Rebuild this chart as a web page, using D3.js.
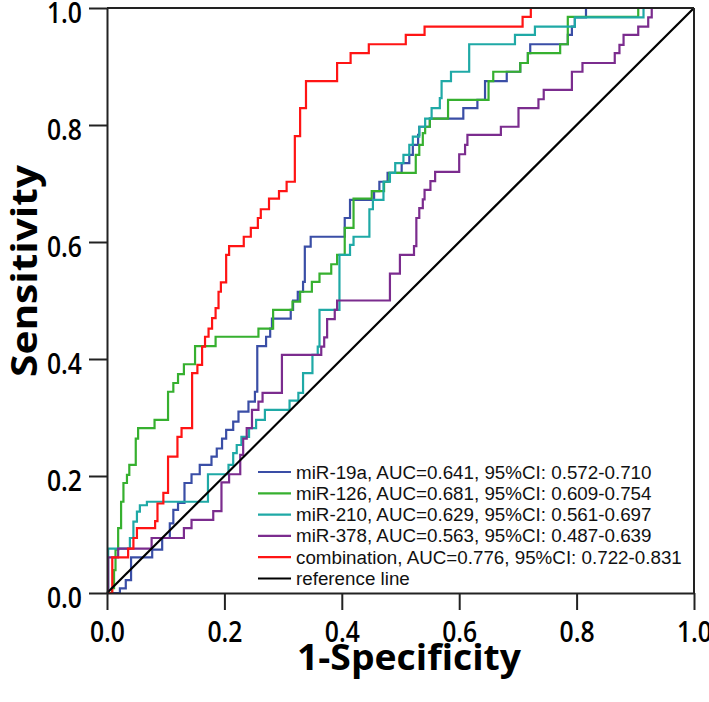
<!DOCTYPE html>
<html><head><meta charset="utf-8">
<script src="https://cdn.jsdelivr.net/npm/d3@7"></script>
<style>body{margin:0;background:#fff}</style>
</head><body>
<script>
// ---- data ----
const seriesNames = ["miR-19a", "miR-126", "miR-210", "miR-378", "combination"];
const aucLabels = ["AUC=0.641, 95%CI: 0.572-0.710", "AUC=0.681, 95%CI: 0.609-0.754",
  "AUC=0.629, 95%CI: 0.561-0.697", "AUC=0.563, 95%CI: 0.487-0.639", "AUC=0.776, 95%CI: 0.722-0.831"];
const referenceLabel = "reference line";
const tickValues = [0, 0.2, 0.4, 0.6, 0.8, 1.0];
const xTitle = "1-Specificity";
const yTitle = "Sensitivity";

const mir19aFpr = [0.022,0.032,0.041,0.077,0.094,0.107,0.113,0.121,0.132,0.144,0.158,0.178,0.187,0.196,0.203,0.215,0.224,0.241,0.252,0.256,0.271,0.278,0.281,0.313,0.317,0.325,0.334,0.337,0.347,0.405,0.414,0.455,0.464,0.478,0.502,0.515,0.521,0.530,0.532,0.550,0.607,0.631,0.644,0.681,0.704,0.717,0.721,0.785,0.792,0.797,0.816];
const mir19aTpr = [0.008,0.022,0.061,0.074,0.094,0.119,0.142,0.154,0.188,0.203,0.219,0.233,0.247,0.264,0.279,0.293,0.310,0.327,0.344,0.422,0.438,0.452,0.469,0.484,0.500,0.515,0.532,0.592,0.609,0.641,0.672,0.687,0.703,0.718,0.735,0.749,0.766,0.783,0.797,0.811,0.829,0.843,0.875,0.891,0.906,0.923,0.938,0.954,0.968,0.984,1.0];

const mir126Fpr = [0.0085,0.012,0.0145,0.019,0.024,0.028,0.034,0.038,0.049,0.053,0.081,0.104,0.113,0.121,0.131,0.150,0.185,0.258,0.283,0.316,0.329,0.349,0.362,0.382,0.392,0.405,0.420,0.451,0.472,0.481,0.526,0.532,0.538,0.542,0.550,0.581,0.650,0.658,0.704,0.717,0.772,0.785,0.905];
const mir126Tpr = [0.0085,0.039,0.074,0.111,0.156,0.188,0.202,0.219,0.264,0.282,0.296,0.344,0.359,0.374,0.391,0.422,0.438,0.452,0.484,0.498,0.515,0.532,0.546,0.562,0.578,0.624,0.674,0.687,0.703,0.718,0.749,0.766,0.786,0.797,0.811,0.843,0.875,0.891,0.906,0.923,0.938,0.985,1.0];

const mir210Fpr = [0.002,0.039,0.045,0.051,0.056,0.068,0.172,0.207,0.215,0.221,0.229,0.242,0.254,0.269,0.311,0.326,0.334,0.350,0.359,0.362,0.396,0.414,0.420,0.447,0.453,0.471,0.482,0.491,0.505,0.515,0.521,0.532,0.542,0.553,0.567,0.570,0.586,0.617,0.695,0.729,0.797,0.914];
const mir210Tpr = [0.076,0.094,0.122,0.139,0.150,0.156,0.203,0.219,0.239,0.253,0.267,0.282,0.296,0.313,0.329,0.342,0.376,0.407,0.421,0.484,0.578,0.595,0.609,0.656,0.672,0.703,0.718,0.735,0.749,0.766,0.780,0.797,0.811,0.829,0.846,0.875,0.891,0.938,0.954,0.968,0.984,1.0];

const mir378Fpr = [0.002,0.019,0.076,0.131,0.144,0.181,0.195,0.208,0.227,0.232,0.238,0.247,0.258,0.265,0.298,0.365,0.370,0.375,0.388,0.392,0.482,0.499,0.523,0.527,0.532,0.538,0.541,0.551,0.559,0.600,0.610,0.614,0.671,0.701,0.735,0.744,0.792,0.810,0.865,0.873,0.880,0.905,0.922,0.928];
const mir378Tpr = [0.061,0.076,0.094,0.111,0.125,0.140,0.189,0.203,0.236,0.264,0.282,0.313,0.327,0.342,0.407,0.421,0.437,0.468,0.484,0.500,0.546,0.578,0.593,0.641,0.658,0.673,0.689,0.704,0.720,0.750,0.766,0.783,0.797,0.829,0.844,0.860,0.891,0.906,0.923,0.937,0.954,0.968,0.984,1.0];

const comboFpr = [0.009,0.036,0.045,0.051,0.082,0.086,0.096,0.104,0.120,0.127,0.145,0.154,0.162,0.167,0.173,0.179,0.185,0.190,0.194,0.203,0.208,0.233,0.245,0.257,0.262,0.276,0.293,0.306,0.320,0.329,0.339,0.392,0.415,0.446,0.509,0.541,0.708,0.722];
const comboTpr = [0.061,0.076,0.094,0.111,0.123,0.153,0.171,0.233,0.267,0.282,0.376,0.390,0.421,0.438,0.452,0.470,0.487,0.515,0.531,0.578,0.593,0.609,0.624,0.641,0.656,0.674,0.687,0.703,0.781,0.829,0.875,0.906,0.923,0.938,0.954,0.968,0.985,1.0];

const seriesFpr = [mir19aFpr, mir126Fpr, mir210Fpr, mir378Fpr, comboFpr];
const seriesTpr = [mir19aTpr, mir126Tpr, mir210Tpr, mir378Tpr, comboTpr];

// ---- styling ----
const colors = ["#3a4ea6", "#36b02f", "#1fa9a6", "#7b2c8e", "#ff1414"];
const W = 709, H = 702;
const L = 107, R = 694, T = 8, B = 593;

const svg = d3.select("body").append("svg").attr("width", W).attr("height", H);
const x = d3.scaleLinear().domain([0, 1]).range([L, R]);
const y = d3.scaleLinear().domain([0, 1]).range([B, T]);

const line = d3.line().x(d => x(d[0])).y(d => y(d[1])).curve(d3.curveStepAfter);

// series
seriesFpr.forEach((fx, i) => {
  const pts = [[0, 0]].concat(fx.map((v, j) => [v, seriesTpr[i][j]])).concat([[1, 1]]);
  svg.append("path").attr("d", line(pts)).attr("fill", "none")
    .attr("stroke", colors[i]).attr("stroke-width", 2.2);
});
// reference line
svg.append("path").attr("d", d3.line().x(d => x(d[0])).y(d => y(d[1]))([[0, 0], [1, 1]]))
  .attr("stroke", "#000").attr("stroke-width", 2.2).attr("fill", "none");

// frame top/right
svg.append("line").attr("x1", x(0)).attr("x2", x(1)).attr("y1", y(1)).attr("y2", y(1)).attr("stroke", "#222").attr("stroke-width", 2);
svg.append("line").attr("x1", x(1)).attr("x2", x(1)).attr("y1", y(1)).attr("y2", y(0)).attr("stroke", "#222").attr("stroke-width", 2);

const fmt = d3.format(".1f");
const tickFont = "'Open Sans', sans-serif";
const gx = svg.append("g").attr("transform", `translate(0,${B})`)
  .call(d3.axisBottom(x).tickValues(tickValues).tickFormat(fmt).tickSize(17).tickSizeOuter(0).tickPadding(12));
const gy = svg.append("g").attr("transform", `translate(${L},0)`)
  .call(d3.axisLeft(y).tickValues(tickValues).tickFormat(fmt).tickSize(18).tickSizeOuter(0).tickPadding(7));
[gx, gy].forEach(g => {
  g.selectAll("path.domain").attr("stroke", "#222").attr("stroke-width", 2);
  g.selectAll(".tick line").attr("stroke", "#222").attr("stroke-width", 2);
  g.selectAll(".tick text").attr("font-family", tickFont).attr("font-weight", 600)
    .attr("font-size", 28).attr("fill", "#000")
    .attr("textLength", 35).attr("lengthAdjust", "spacingAndGlyphs");
});
gy.selectAll(".tick text").attr("dy", "0.52em");

// axis titles
svg.append("text").attr("x", 409).attr("y", 670).attr("text-anchor", "middle")
  .attr("font-family", tickFont).attr("font-weight", 700).attr("font-size", 35)
  .attr("textLength", 224).attr("lengthAdjust", "spacingAndGlyphs").text(xTitle);
svg.append("text").attr("transform", "translate(37,271) rotate(-90)").attr("text-anchor", "middle")
  .attr("font-family", tickFont).attr("font-weight", 700).attr("font-size", 35)
  .attr("textLength", 212).attr("lengthAdjust", "spacingAndGlyphs").text(yTitle);

// legend
const legendRows = seriesNames.map((n, i) => ({label: n + ", " + aucLabels[i], color: colors[i]}))
  .concat([{label: referenceLabel, color: "#000"}]);
const lg = svg.append("g");
legendRows.forEach((r, i) => {
  const yy = 472 + i * 21.3;
  lg.append("line").attr("x1", 258).attr("x2", 291).attr("y1", yy).attr("y2", yy)
    .attr("stroke", r.color).attr("stroke-width", 2.2);
  lg.append("text").attr("x", 296).attr("y", yy).attr("dy", "0.35em")
    .attr("font-family", "'Liberation Sans', Arial, sans-serif").attr("font-size", 18.8)
    .attr("fill", "#111").text(r.label);
});
</script>
</body></html>
